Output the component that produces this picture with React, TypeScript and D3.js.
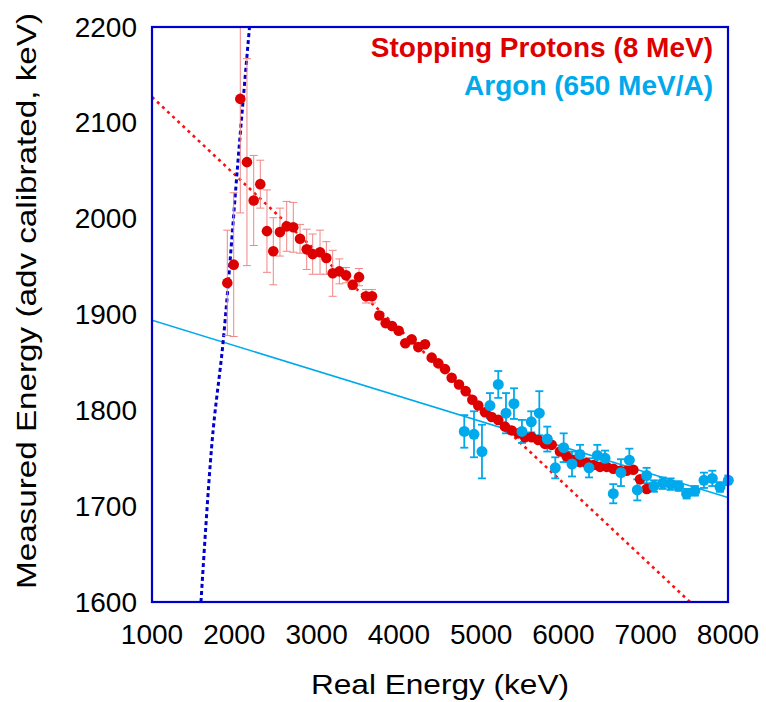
import React from "react";
import * as d3 from "d3";

// ---- data ----
const redX = [1915,1993,2073,2154,2236,2316,2397,2474,2555,2637,2717,2799,2880,2953,3042,3119,3196,3277,3358,3439,3516,3601,3674,3762,3840,3917,3998,4078,4156,4236,4318,4399,4480,4561,4642,4731,4812,4893,4965,5047,5128,5208,5290,5371,5452,5533,5614,5694,5776,5857,5958,6039,6120,6200,6280,6363,6445,6526,6607,6688,6769,6850,6931,7012];
const redY = [1933,1952,2125,2059,2019,2036,1987,1966,1986,1992,1991,1979,1968,1963,1965,1959,1943,1945,1941,1931,1939,1919,1919,1899,1891,1888,1883,1870,1874,1866,1869,1855,1849,1843,1834,1827,1820,1811,1805,1798,1793,1790,1783,1779,1776,1772,1772,1769,1765,1764,1757,1752,1748,1746,1745,1743,1741,1741,1739,1737,1737,1738,1728,1718];
const redErr = [55,75,119,108,47,25,43,35,25,26,26,15,21,21,23,17,24,13,8,5,9,7,7,4,4,3,3,3,3,3,3,2,2,2,2,2,2,2,2,2,2,2,2,2,2,2,2,2,2,2,2,2,2,2,2,2,2,2,2,2,2,2,2,2];

const blueX = [4795,4913,5010,5107,5208,5302,5399,5496,5609,5707,5804,5901,6003,6104,6201,6311,6412,6505,6606,6699,6801,6898,7011,7100,7206,7303,7400,7497,7598,7708,7809,7903,8004];
const blueY = [1778,1775,1757,1805,1827,1797,1807,1778,1788,1797,1770,1740,1761,1744,1754,1740,1753,1750,1713,1735,1748,1717,1732,1721,1724,1723,1721,1713,1716,1727,1729,1720,1727];
const blueErr = [17,24,28,13,14,21,16,12,11,23,13,11,15,13,10,10,11,8,10,14,12,11,8,6,6,6,5,5,5,8,8,5,5];

// fit lines
const redFitX = [1000, 7538];
const redFitY = [2127, 1600];
const blueFitX = [1000, 8000];
const blueFitY = [1894, 1709];
const steepX = [1595, 1725, 1866, 2069, 2185];
const steepY = [1600, 1762, 1873, 2085, 2200];

const xTicks = [1000, 2000, 3000, 4000, 5000, 6000, 7000, 8000];
const yTicks = [1600, 1700, 1800, 1900, 2000, 2100, 2200];

const RED = "#dd0000";
const BLUE = "#00a9ec";
const FRAME = "#0000cc";

export default function App() {
  const W = 766, H = 702;
  const L = 152, R = 728, T = 27, B = 602;
  const x = d3.scaleLinear().domain([1000, 8000]).range([L, R]);
  const y = d3.scaleLinear().domain([1600, 2200]).range([B, T]);
  const line = d3.line<[number, number]>().x(d => x(d[0])).y(d => y(d[1]));
  const curve = d3.line<[number, number]>().x(d => x(d[0])).y(d => y(d[1])).curve(d3.curveMonotoneX);
  const font = "'Liberation Sans', Arial, Helvetica, sans-serif";

  const redFit = line(redFitX.map((v, i) => [v, redFitY[i]] as [number, number]));
  const blueFit = line(blueFitX.map((v, i) => [v, blueFitY[i]] as [number, number]));
  const steep = curve(steepX.map((v, i) => [v, steepY[i]] as [number, number]));

  return (
    <svg width={W} height={H} style={{ position: "absolute", left: 0, top: 0, background: "#fff" }} fontFamily={font}>
      <defs>
        <clipPath id="plotclip">
          <rect x={L} y={T} width={R - L} height={B - T} />
        </clipPath>
      </defs>
      <rect x={0} y={0} width={W} height={H} fill="#fff" />
      <g clipPath="url(#plotclip)">
        <path d={redFit || ""} stroke="#ff1010" strokeWidth={2.6} strokeDasharray="3,4" fill="none" />
        <path d={blueFit || ""} stroke={BLUE} strokeWidth={1.6} fill="none" />
        <path d={steep || ""} stroke={FRAME} strokeWidth={3} strokeDasharray="4,3" fill="none" />
        {redX.map((v, i) => {
          const cx = x(v);
          const y1 = y(redY[i] + redErr[i]);
          const y2 = y(redY[i] - redErr[i]);
          return (
            <g key={"re" + i} stroke="#f08585" strokeWidth={1}>
              <line x1={cx} x2={cx} y1={y1} y2={y2} />
              <line x1={cx - 4} x2={cx + 4} y1={y1} y2={y1} />
              <line x1={cx - 4} x2={cx + 4} y1={y2} y2={y2} />
            </g>
          );
        })}
        {blueX.map((v, i) => {
          const cx = x(v);
          const y1 = y(blueY[i] + blueErr[i]);
          const y2 = y(blueY[i] - blueErr[i]);
          return (
            <g key={"be" + i} stroke={BLUE} strokeWidth={1.8}>
              <line x1={cx} x2={cx} y1={y1} y2={y2} />
              <line x1={cx - 4} x2={cx + 4} y1={y1} y2={y1} />
              <line x1={cx - 4} x2={cx + 4} y1={y2} y2={y2} />
            </g>
          );
        })}
      </g>
      {redX.map((v, i) => (
        <circle key={"r" + i} cx={x(v)} cy={y(redY[i])} r={5.3} fill={RED} />
      ))}
      {blueX.map((v, i) => (
        <circle key={"b" + i} cx={x(v)} cy={y(blueY[i])} r={5.5} fill={BLUE} />
      ))}
      <rect x={L} y={T} width={R - L} height={B - T} fill="none" stroke={FRAME} strokeWidth={2.2} />
      {xTicks.map(t => (
        <text key={"xt" + t} x={x(t)} y={644} textAnchor="middle" fontSize={28} fill="#000">{t}</text>
      ))}
      {yTicks.map(t => (
        <text key={"yt" + t} x={137} y={y(t) + 9.5} textAnchor="end" fontSize={28} fill="#000">{t}</text>
      ))}
      <text x={440} y={694} textAnchor="middle" fontSize={28} textLength={258} lengthAdjust="spacingAndGlyphs" fill="#000">Real Energy (keV)</text>
      <text transform={`translate(36,${301}) rotate(-90)`} textAnchor="middle" fontSize={28} textLength={576} lengthAdjust="spacingAndGlyphs" fill="#000">Measured Energy (adv calibrated, keV)</text>
      <text x={713} y={57} textAnchor="end" fontSize={28} fontWeight="bold" fill={RED}>Stopping Protons (8 MeV)</text>
      <text x={713} y={95} textAnchor="end" fontSize={28} fontWeight="bold" fill={BLUE}>Argon (650 MeV/A)</text>
    </svg>
  );
}
